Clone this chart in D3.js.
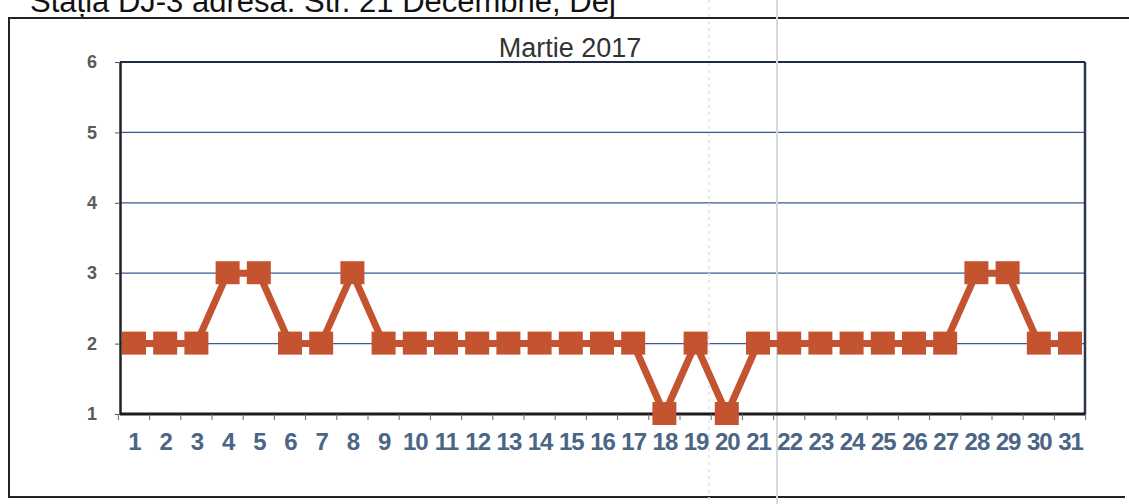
<!DOCTYPE html>
<html>
<head>
<meta charset="utf-8">
<script src="https://cdn.jsdelivr.net/npm/d3@7"></script>
<style>
  body { margin: 0; background: #fff; }
  svg { display: block; font-family: "Liberation Sans", Arial, sans-serif; }
</style>
</head>
<body>
<svg id="chart" width="1129" height="504"></svg>
<script>
// data
const days = d3.range(1, 32).map(String);
const values = [2, 2, 2, 3, 3, 2, 2, 3, 2, 2, 2, 2, 2, 2, 2, 2, 2, 1, 2, 1, 2, 2, 2, 2, 2, 2, 2, 3, 3, 2, 2];
const yTicks = [1, 2, 3, 4, 5, 6];
const caption = "Stația DJ-3 adresa: Str. 21 Decembrie, Dej";
const title = "Martie 2017";

const svg = d3.select("#chart");

// caption, cut by the top of the page as on the scan
svg.append("text")
  .attr("x", 30)
  .attr("y", 12)
  .attr("font-size", 31)
  .attr("fill", "#111")
  .text(caption);

// outer frame (right side runs off the page)
svg.append("path")
  .attr("d", "M1129,18 L9,18 L9,497 L1125,497")
  .attr("fill", "none")
  .attr("stroke", "#222")
  .attr("stroke-width", 2);

const margin = { left: 120, right: 1085, top: 62, bottom: 414 };

const x = d3.scalePoint()
  .domain(days)
  .range([margin.left + 14, margin.right - 15]);
const step = x.step();

const y = d3.scaleLinear()
  .domain([1, 6])
  .range([margin.bottom, margin.top]);

// Grid lines
svg.append("g")
  .selectAll("line")
  .data(yTicks.slice(1))
  .join("line")
  .attr("x1", margin.left)
  .attr("x2", margin.right)
  .attr("y1", (d) => y(d))
  .attr("y2", (d) => y(d))
  .attr("stroke", (d) => (d === 6 ? "#1d2b44" : "#3d5894"))
  .attr("stroke-width", (d) => (d === 6 ? 2 : 1.3));

// right border
svg.append("line")
  .attr("x1", margin.right)
  .attr("x2", margin.right)
  .attr("y1", margin.top)
  .attr("y2", margin.bottom)
  .attr("stroke", "#2b3550")
  .attr("stroke-width", 2.5);

// scanner streaks
svg.append("line")
  .attr("x1", 777).attr("x2", 777).attr("y1", 0).attr("y2", 504)
  .attr("stroke", "#d8d8d8").attr("stroke-width", 2);
svg.append("line")
  .attr("x1", 709).attr("x2", 709).attr("y1", 0).attr("y2", 504)
  .attr("stroke", "#e2e2e2").attr("stroke-width", 1.5)
  .attr("stroke-dasharray", "3, 4");

// Left axis
svg.append("g")
  .attr("transform", `translate(${margin.left}, 0)`)
  .call(d3.axisLeft(y).tickValues(yTicks).tickFormat(d3.format("d"))
    .tickSize(5).tickSizeOuter(0).tickPadding(18))
  .call((g) => g.select(".domain").attr("stroke", "#222").attr("stroke-width", 2.5))
  .call((g) => g.selectAll(".tick line").attr("stroke", "#555"))
  .call((g) => g.selectAll(".tick text")
    .attr("font-size", 18)
    .attr("font-weight", "bold")
    .attr("fill", "#5a5a5a"));

// Bottom axis
const tickEdges = days.map((d) => x(d) - step / 2).concat([x(days[days.length - 1]) + step / 2]);
const bottom = svg.append("g")
  .attr("transform", `translate(0, ${margin.bottom})`);
bottom.call(d3.axisBottom(x).tickSize(0).tickPadding(19))
  .call((g) => g.select(".domain").remove())
  .call((g) => g.selectAll(".tick text")
    .attr("font-size", 24)
    .attr("font-weight", "bold")
    .attr("letter-spacing", "-1px")
    .attr("fill", "#4a6585"));
bottom.append("line")
  .attr("x1", margin.left)
  .attr("x2", margin.right)
  .attr("stroke", "#1a1a1a")
  .attr("stroke-width", 3);
bottom.selectAll(".edge")
  .data(tickEdges)
  .join("line")
  .attr("class", "edge")
  .attr("x1", (d) => d)
  .attr("x2", (d) => d)
  .attr("y1", 0)
  .attr("y2", 6)
  .attr("stroke", "#666");

// Title
svg.append("text")
  .attr("x", 570)
  .attr("y", 57)
  .attr("text-anchor", "middle")
  .attr("font-size", 27)
  .attr("fill", "#333")
  .text(title);

// Line + markers
const red = "#c4532f";

svg.append("path")
  .datum(values)
  .attr("fill", "none")
  .attr("stroke", red)
  .attr("stroke-width", 7)
  .attr("d", d3.line().x((d, i) => x(days[i])).y((d) => y(d)));

const size = 24;
svg.append("g")
  .selectAll("rect")
  .data(values)
  .join("rect")
  .attr("x", (d, i) => x(days[i]) - size / 2)
  .attr("y", (d) => y(d) - size / 2)
  .attr("width", size)
  .attr("height", size - 1)
  .attr("fill", red);
</script>
</body>
</html>
